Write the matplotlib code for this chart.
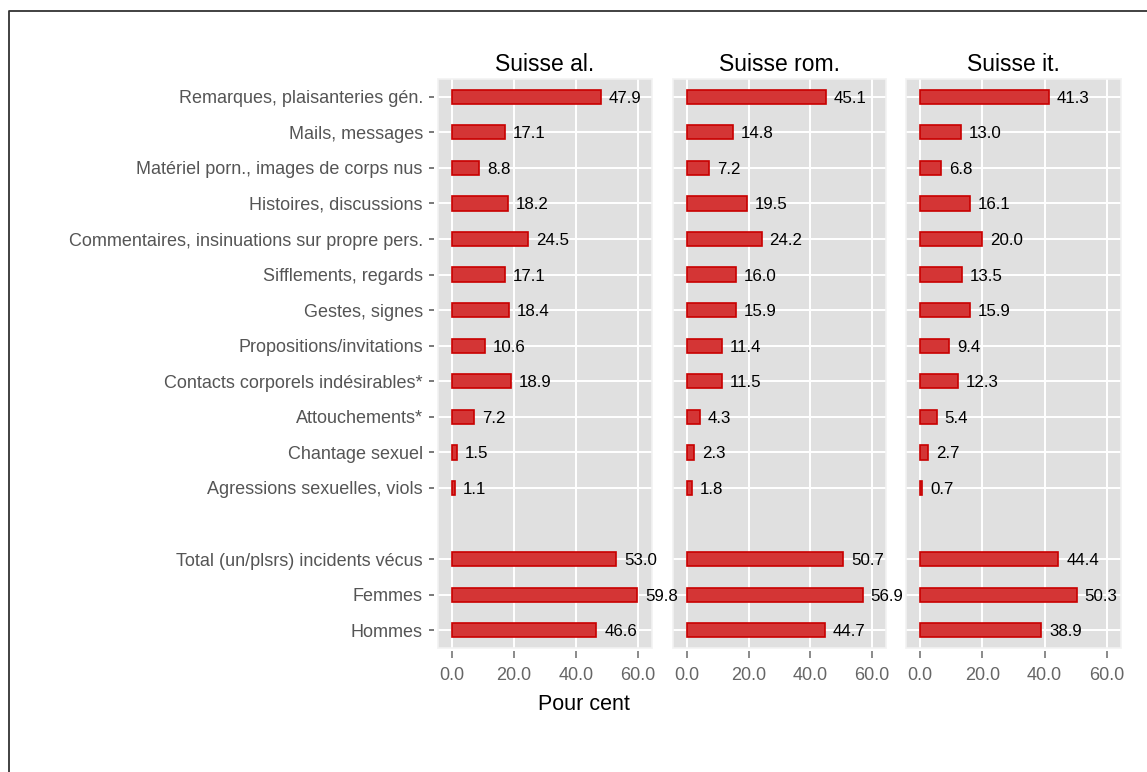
import matplotlib
matplotlib.use("Agg")
import matplotlib.pyplot as plt
from matplotlib.lines import Line2D
from matplotlib.patches import Rectangle

plt.rcParams['font.family'] = ['Liberation Sans', 'DejaVu Sans']

categories = ['Remarques, plaisanteries gén.', 'Mails, messages',
              'Matériel porn., images de corps nus', 'Histoires, discussions',
              'Commentaires, insinuations sur propre pers.', 'Sifflements, regards',
              'Gestes, signes', 'Propositions/invitations',
              'Contacts corporels indésirables*', 'Attouchements*',
              'Chantage sexuel', 'Agressions sexuelles, viols',
              '', 'Total (un/plsrs) incidents vécus', 'Femmes', 'Hommes']

regions = ['Suisse al.', 'Suisse rom.', 'Suisse it.']

suisse_al = [47.9, 17.1, 8.8, 18.2, 24.5, 17.1, 18.4, 10.6, 18.9, 7.2, 1.5, 1.1,
             None, 53.0, 59.8, 46.6]
suisse_rom = [45.1, 14.8, 7.2, 19.5, 24.2, 16.0, 15.9, 11.4, 11.5, 4.3, 2.3, 1.8,
              None, 50.7, 56.9, 44.7]
suisse_it = [41.3, 13.0, 6.8, 16.1, 20.0, 13.5, 15.9, 9.4, 12.3, 5.4, 2.7, 0.7,
             None, 44.4, 50.3, 38.9]

xticks = [0, 20, 40, 60]

W, H = 1147, 772
fig = plt.figure(figsize=(W / 100, H / 100), dpi=100)

# panel positions in pixels (left, right)
panels = [(438, 652), (673, 886), (906, 1121)]
top, bottom = 79, 648

ypos = list(range(len(categories)))
grid_y = [i for i, c in enumerate(categories) if c]

for k, (vals, name) in enumerate(zip([suisse_al, suisse_rom, suisse_it], regions)):
    l, r = panels[k]
    ax = fig.add_axes([l / W, 1 - bottom / H, (r - l) / W, (bottom - top) / H])
    # earlier panels on top so their value labels can spill over
    ax.set_zorder(10 - k)
    ax.set_facecolor('#e0e0e0')
    for s in ax.spines.values():
        s.set_color('none')
    ax.spines['left'].set_position(('outward', 3))
    ax.spines['bottom'].set_position(('outward', 2))
    ax.add_patch(Rectangle((0, 0), 1, 1, transform=ax.transAxes, fill=False,
                           edgecolor='#f2f2f2', lw=1.2, clip_on=False, zorder=4))
    ax.set_xlim(-4.5, 64.5)
    ax.set_ylim(len(categories) - 0.5, -0.5)

    for x in xticks:
        ax.axvline(x, color='white', lw=1.4, zorder=0)
    for y in grid_y:
        ax.axhline(y, color='white', lw=1.4, zorder=0)

    ys = [y for y, v in zip(ypos, vals) if v is not None]
    vs = [v for v in vals if v is not None]
    ax.barh(ys, vs, height=0.4, color='#d43535', edgecolor='#c80000',
            linewidth=1.2, zorder=2)
    for y, v in zip(ys, vs):
        ax.text(v + 2.5, y, f'{v:.1f}', va='center_baseline', ha='left',
                fontsize=12.2, color='black', zorder=5, clip_on=False)

    ax.set_xticks(xticks)
    ax.set_xticklabels([f'{x:.1f}' for x in xticks], fontsize=13, color='#666666')
    ax.tick_params(axis='x', length=5, width=1.2, color='#777777', pad=7)
    ax.set_yticks(grid_y)
    if k == 0:
        ax.set_yticklabels([categories[i] for i in grid_y], fontsize=13, color='#555555')
        ax.tick_params(axis='y', length=3.6, width=1.1, color='#555555', pad=4.3)
    else:
        ax.set_yticklabels([])
        ax.tick_params(axis='y', length=0)
    ax.set_title(name, fontsize=16.5, color='black', pad=6)

fig.text(584 / W, 1 - 704 / H, 'Pour cent', ha='center', va='center',
         fontsize=15.5, color='black')

# outer frame
fig.add_artist(Line2D([8.5 / W, 8.5 / W, 1], [0, 1 - 11 / H, 1 - 11 / H],
                      transform=fig.transFigure, color='#333333', lw=1.3))

fig.savefig('out.png', dpi=100)
